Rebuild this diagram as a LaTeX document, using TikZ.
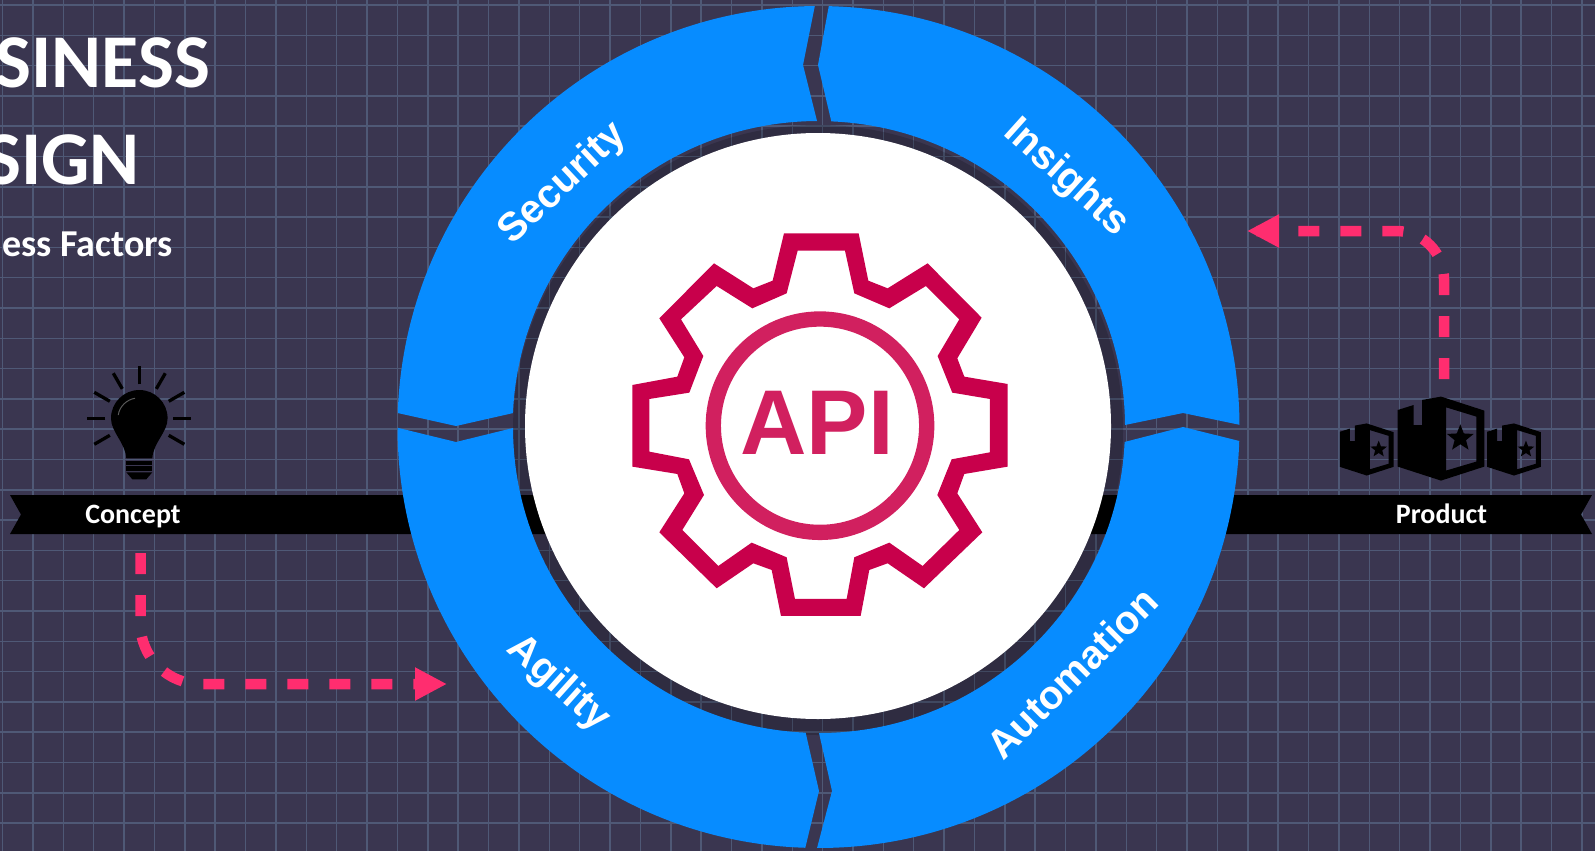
\documentclass[tikz,border=0pt]{standalone}
\usepackage{fontspec}
\usepackage{tikz}
\setmainfont{Carlito}
\newfontfamily\ringfont{Liberation Sans}
\usetikzlibrary{arrows.meta}
\usetikzlibrary{decorations.markings}
\definecolor{slatebg}{HTML}{3A3650}
\definecolor{gridblue}{HTML}{4F5976}
\definecolor{ringblue}{HTML}{078CFF}
\definecolor{flowpink}{HTML}{FF2D6F}
\definecolor{gearred}{HTML}{C8004B}
\definecolor{apired}{HTML}{D1205F}
\tikzset{gridline/.style = {draw=gridblue, line width=1.5},
         ringpiece/.style = {fill=ringblue},
         ringlabel/.style = {text=white, inner sep=0, font=\ringfont\bfseries\fontsize{40}{40}\selectfont},
         ribbonlabel/.style = {text=white, inner sep=0, anchor=base, font=\bfseries\fontsize{28}{28}\selectfont},
         titletext/.style = {text=white, inner sep=0, anchor=base east, font=\bfseries\fontsize{76}{76}\selectfont},
         flowarrow/.style = {draw=flowpink, line width=10.5, dash pattern=on 21 off 21,
                             decoration={markings,
                                         mark=at position 1 with {\arrow[flowpink]{Triangle[length=32pt, width=31pt]}}},
                             postaction={decorate}},
         boxicon/.pic = {
             \fill [even odd rule] (-43.3, -28.3) -- (-27.3, -33.3) -- (-27.3, -13.3) -- (-19, -13.3) -- (-19, -38.3)
                 -- (0, -41.7) -- (43.3, -27.7) -- (43.3, 28.3) -- (0, 42.3) -- (-43.3, 28.3) -- cycle
                 (5, -31) -- (35.3, -21.7) -- (35.3, 23.3) -- (5, 32.3) -- cycle;
             \fill (19.3, 0) +(-90:14) -- +(-54:6) -- +(-18:14) -- +(18:6) -- +(54:14)
                 -- +(90:6) -- +(126:14) -- +(162:6) -- +(198:14) -- +(234:6) -- cycle;
         },
         bulbicon/.pic = {
             \fill (-28.3, 0) arc [start angle=180, end angle=360, radius=28.3]
                 .. controls (28.3, 14) and (14, 24) .. (13, 40) -- (-13, 40)
                 .. controls (-14, 24) and (-28.3, 14) .. (-28.3, 0) -- cycle;
             \fill (-13, 42.7) rectangle (13, 46.7);
             \fill (-13, 48) rectangle (13, 52.7);
             \fill (-13, 54) -- (13, 54) -- (7, 61) -- (-7, 61) -- cycle;
             \draw [gray!70!black, line width=1] (-21, -3.3) .. controls (-20, -12) and (-12, -19) .. (-4.3, -20);
             \foreach \rayangle in {30, 150, 180, 210, 240, 270, 300, 330, 360}
                 \draw [line width=3.3] (\rayangle:34) -- (\rayangle:52);
         }}

\begin{document}
\begin{tikzpicture}[x=1pt, y=-1pt]
    \useasboundingbox (0, 0) rectangle (1595, 851);
    \clip (0, 0) rectangle (1595, 851);
    \fill [slatebg] (0, 0) rectangle (1595, 851);
    \foreach \gridx in {-1, ..., 51}
        \draw [gridline] ({33 + 30.37*\gridx}, 0) -- ({33 + 30.37*\gridx}, 851);
    \foreach \gridy in {0, ..., 27}
        \draw [gridline] (0, {5 + 30.3*\gridy}) -- (1595, {5 + 30.3*\gridy});

    \fill (10, 495) -- (1592, 495) -- (1581, 514.5) -- (1592, 534) -- (10, 534) -- (21, 514.5) -- cycle;
    \coordinate (hub) at (818.5, 427);
    \fill [black, opacity=0.18] (818, 430) circle [radius=305];

    \fill [ringpiece] (hub) ++(181.9:421) arc [start angle=181.9, end angle=269.5, radius=421]
        -- (803, 65) -- (817, 121) arc [start angle=269.7, end angle=182.6, radius=306] -- (456, 426) -- cycle;
    \fill [ringpiece] (hub) ++(271.4:421) arc [start angle=271.4, end angle=359.7, radius=421]
        -- (1183, 413) -- (1125, 425) arc [start angle=359.6, end angle=272.3, radius=306] -- (818, 65) -- cycle;
    \fill [ringpiece] (hub) ++(1.9:421) arc [start angle=1.9, end angle=90.2, radius=421]
        -- (832, 791) -- (819, 733) arc [start angle=90, end angle=2.8, radius=306] -- (1183, 427) -- cycle;
    \fill [ringpiece] (hub) ++(91.8:421) arc [start angle=91.8, end angle=179.9, radius=421]
        -- (456, 442) -- (513, 428) arc [start angle=179.8, end angle=92.5, radius=306] -- (819, 791) -- cycle;

    \fill [white] (818, 426) circle [radius=293];

    \node [ringlabel, rotate=43] (security) at (563, 184) {Security};
    \node [ringlabel, rotate=-42] (insights) at (1066, 178) {Insights};
    \node [ringlabel, rotate=45] (automation) at (1072, 673) {Automation};
    \node [ringlabel, rotate=-42] (agility) at (558, 684) {Agility};

    \begin{scope}[shift={(620, 220)}, scale=0.3333]
        \fill [gearred, even odd rule]
            (492,40) -- (716,40) -- (745,182) -- (803,205) -- (923,130) -- (1085,293) -- (1012,415) -- (1033,470)
            -- (1163,492) -- (1163,740) -- (1033,762) -- (1012,820) -- (1087,937) -- (912,1105) -- (803,1030) -- (748,1050)
            -- (722,1188) -- (483,1188) -- (455,1050) -- (400,1030) -- (290,1105) -- (118,937) -- (193,820) -- (172,762)
            -- (37,740) -- (37,495) -- (172,470) -- (193,412) -- (118,295) -- (282,130) -- (400,205) -- (458,182) -- cycle
            (533,92) -- (675,92) -- (703,220) -- (808,265) -- (918,198) -- (1018,298) -- (953,408) -- (997,518)
            -- (1110,537) -- (1110,697) -- (995,718) -- (952,825) -- (1018,930) -- (908,1038) -- (808,968) -- (703,1012)
            -- (680,1137) -- (525,1137) -- (500,1012) -- (395,968) -- (295,1038) -- (187,930) -- (252,825) -- (207,718)
            -- (88,695) -- (88,537) -- (208,518) -- (250,408) -- (183,298) -- (290,198) -- (397,265) -- (500,220) -- cycle;
    \end{scope}
    \draw [apired, line width=15.3] (820, 425.7) circle [radius=106.7];
    \node [text=apired, inner sep=0, font=\ringfont\bfseries\fontsize{92}{92}\selectfont] (api) at (817, 423) {API};

    \node [titletext] (business) at (210, 88) {SINESS};
    \node [titletext] (design) at (140, 184) {SIGN};
    \node [text=white, inner sep=0, anchor=base east, font=\bfseries\fontsize{38}{38}\selectfont] (factors) at (173, 256) {ess Factors};

    \node [ribbonlabel] (concept) at (133, 523) {Concept};
    \node [ribbonlabel] (product) at (1441.5, 523) {Product};

    \pic (bulb) at (139.3, 418.3) {bulbicon};
    \pic (bigbox) at (1441, 438.3) {boxicon};
    \pic [scale=0.62] (leftbox) at (1366.7, 449.3) {boxicon};
    \pic [scale=0.62] (rightbox) at (1514, 449.3) {boxicon};

    \coordinate (concept out) at (140.5, 553);
    \coordinate (agility in) at (447, 684);
    \coordinate (product out) at (1444, 379);
    \coordinate (insights in) at (1247, 231);
    \draw [flowarrow, rounded corners=60] (concept out) |- (agility in);
    \draw [flowarrow, rounded corners=48] (product out) |- (insights in);
\end{tikzpicture}
\end{document}
